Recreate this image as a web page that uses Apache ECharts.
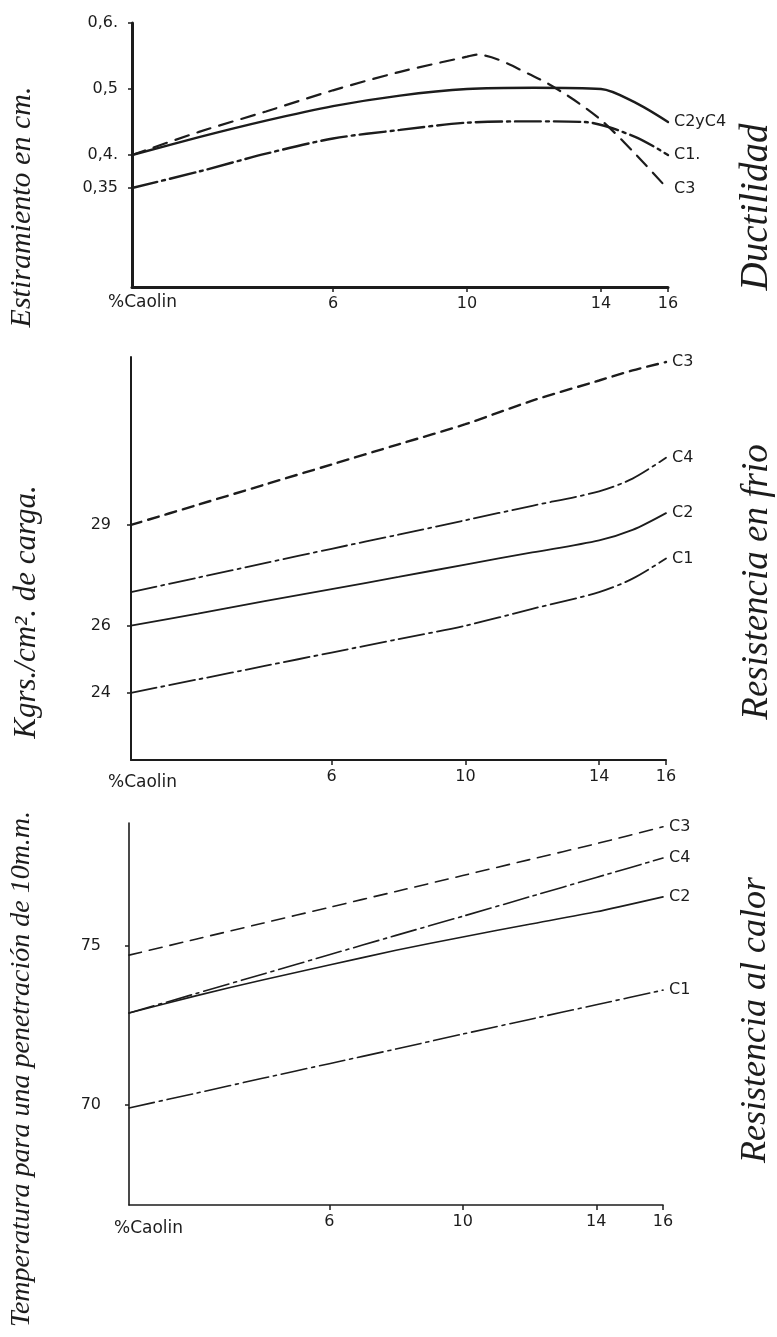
<!DOCTYPE html>
<html>
<head>
<meta charset="utf-8">
<script src="https://cdn.jsdelivr.net/npm/echarts@6/dist/echarts.min.js"></script>
<style>
  html, body { margin: 0; padding: 0; background: #fff; }
  #chart { width: 777px; height: 1337px; }
</style>
</head>
<body>
<div id="chart"></div>
<script>
// Horizontal axis shared by the three panels: percent of kaolin
const xTicks = [6, 10, 14, 16];
const xName = '%Caolin';

// Ductilidad: elongation in cm
const ductC2C4X = [0, 2, 4, 6, 8, 10, 12, 14, 15, 16];
const ductC2C4Y = [0.40, 0.427, 0.452, 0.474, 0.49, 0.50, 0.502, 0.50, 0.48, 0.45];
const ductC3X = [0, 2, 4, 6, 8, 10, 10.3, 12, 13, 14, 15, 16];
const ductC3Y = [0.40, 0.435, 0.466, 0.498, 0.526, 0.549, 0.552, 0.519, 0.49, 0.453, 0.403, 0.348];
const ductC1X = [0, 2, 4, 6, 8, 10, 12, 13.5, 15, 16];
const ductC1Y = [0.35, 0.375, 0.402, 0.425, 0.438, 0.449, 0.451, 0.45, 0.428, 0.40];
const ductTicks = [0.35, 0.4, 0.5, 0.6];
const ductTickText = ['0,35', '0,4.', '0,5', '0,6.'];

// Resistencia en frio: kg/cm2 of load
const coldX = [0, 2, 4, 6, 8, 10, 12, 14, 15, 16];
const coldC3 = [29.0, 29.6, 30.2, 30.8, 31.4, 32.0, 32.7, 33.3, 33.6, 33.85];
const coldC4 = [27.0, 27.43, 27.86, 28.29, 28.71, 29.14, 29.57, 30.0, 30.38, 31.0];
const coldC2 = [26.0, 26.36, 26.73, 27.09, 27.45, 27.82, 28.18, 28.54, 28.85, 29.35];
const coldC1 = [24.0, 24.4, 24.8, 25.2, 25.6, 26.0, 26.5, 27.0, 27.4, 28.0];
const coldTicks = [24, 26, 29];

// Resistencia al calor: temperature for a 10 mm penetration
const heatX = [0, 2, 4, 6, 8, 10, 12, 14, 16];
const heatC3 = [74.7, 75.2, 75.7, 76.2, 76.7, 77.2, 77.7, 78.2, 78.73];
const heatC4 = [72.88, 73.49, 74.1, 74.71, 75.32, 75.92, 76.53, 77.14, 77.75];
const heatC2 = [72.88, 73.42, 73.92, 74.39, 74.85, 75.27, 75.67, 76.06, 76.53];
const heatC1 = [69.9, 70.36, 70.83, 71.29, 71.75, 72.22, 72.68, 73.14, 73.6];
const heatTicks = [70, 75];

const INK = '#1c1c1c';
const NUM_FONT = '"DejaVu Sans", sans-serif';
const SCRIPT_FONT = '"Liberation Serif", serif';

const DASH = [11, 7];
const DASH_DOT = [26, 5, 3, 5];

function pairs(xs, ys) {
  return xs.map((x, i) => [x, ys[i]]);
}

function curve(name, xs, ys, idx, dash, width, smooth) {
  return {
    type: 'line',
    name: name,
    xAxisIndex: idx,
    yAxisIndex: idx,
    data: pairs(xs, ys),
    showSymbol: false,
    smooth: smooth,
    lineStyle: { color: INK, width: width, type: dash, cap: 'round' },
    endLabel: {
      show: true,
      formatter: () => name,
      color: INK,
      fontFamily: NUM_FONT,
      fontSize: 16,
      distance: 6
    },
    emphasis: { disabled: true },
    z: 3
  };
}

function xAxis(idx, lineWidth) {
  return {
    type: 'value',
    gridIndex: idx,
    min: 0,
    max: 16,
    splitLine: { show: false },
    axisLine: { show: true, onZero: false, lineStyle: { color: INK, width: lineWidth } },
    axisTick: { show: true, customValues: xTicks, length: 5, lineStyle: { color: INK, width: 1.5 } },
    axisLabel: {
      customValues: xTicks,
      color: INK,
      fontFamily: NUM_FONT,
      fontSize: 16,
      margin: 9
    }
  };
}

function yAxis(idx, min, max, ticks, texts, lineWidth, margin) {
  return {
    type: 'value',
    gridIndex: idx,
    min: min,
    max: max,
    splitLine: { show: false },
    axisLine: { show: true, onZero: false, lineStyle: { color: INK, width: lineWidth } },
    axisTick: { show: true, customValues: ticks, length: 4, lineStyle: { color: INK, width: 1.5 } },
    axisLabel: {
      customValues: ticks,
      color: INK,
      fontFamily: NUM_FONT,
      fontSize: 16,
      margin: margin,
      formatter: v => {
        if (!texts) return String(v);
        const i = ticks.findIndex(t => Math.abs(t - v) < 1e-9);
        return i >= 0 ? texts[i] : '';
      }
    }
  };
}

function vText(text, x, y, size) {
  return {
    type: 'text',
    x: x,
    y: y,
    rotation: Math.PI / 2,
    style: {
      text: text,
      fill: INK,
      fontFamily: SCRIPT_FONT,
      fontStyle: 'italic',
      fontSize: size,
      align: 'center',
      verticalAlign: 'middle'
    }
  };
}

function hText(text, x, y) {
  return {
    type: 'text',
    x: x,
    y: y,
    style: {
      text: text,
      fill: INK,
      fontFamily: NUM_FONT,
      fontSize: 17,
      align: 'left',
      verticalAlign: 'middle'
    }
  };
}

const chart = echarts.init(document.getElementById('chart'), null, { renderer: 'canvas' });

chart.setOption({
  animation: false,
  backgroundColor: '#ffffff',
  grid: [
    { left: 132, top: 23, width: 536, height: 264 },
    { left: 131, top: 357, width: 535, height: 403 },
    { left: 129, top: 823, width: 534, height: 382 }
  ],
  xAxis: [xAxis(0, 3), xAxis(1, 2), xAxis(2, 1.6)],
  yAxis: [
    yAxis(0, 0.2, 0.6, ductTicks, ductTickText, 3, 14),
    yAxis(1, 22, 34, coldTicks, null, 2, 20),
    yAxis(2, 66.85, 78.85, heatTicks, null, 1.6, 28)
  ],
  series: [
    curve('C2yC4', ductC2C4X, ductC2C4Y, 0, 'solid', 2.4, 0.3),
    curve('C1.', ductC1X, ductC1Y, 0, DASH_DOT, 2.4, 0.3),
    curve('C3', ductC3X, ductC3Y, 0, [14, 9], 2.2, 0.3),

    curve('C3', coldX, coldC3, 1, DASH, 2.4, 0.3),
    curve('C4', coldX, coldC4, 1, DASH_DOT, 1.8, 0.3),
    curve('C2', coldX, coldC2, 1, 'solid', 1.8, 0.3),
    curve('C1', coldX, coldC1, 1, DASH_DOT, 1.8, 0.3),

    curve('C3', heatX, heatC3, 2, [13, 8], 1.6, 0.2),
    curve('C4', heatX, heatC4, 2, DASH_DOT, 1.6, 0.2),
    curve('C2', heatX, heatC2, 2, 'solid', 1.6, 0.2),
    curve('C1', heatX, heatC1, 2, DASH_DOT, 1.6, 0.2)
  ],
  graphic: [
    hText(xName, 108, 303),
    hText(xName, 108, 783),
    hText(xName, 114, 1229),
    vText('Estiramiento en cm.', 22, 207, 30),
    vText('Ductilidad', 757, 207, 39),
    vText('Kgrs./cm². de carga.', 27, 612, 31),
    vText('Resistencia en frio', 757, 582, 37),
    vText('Temperatura para una penetración de 10m.m.', 22, 1069, 28),
    vText('Resistencia al calor', 756, 1020, 36)
  ]
});
</script>
</body>
</html>
